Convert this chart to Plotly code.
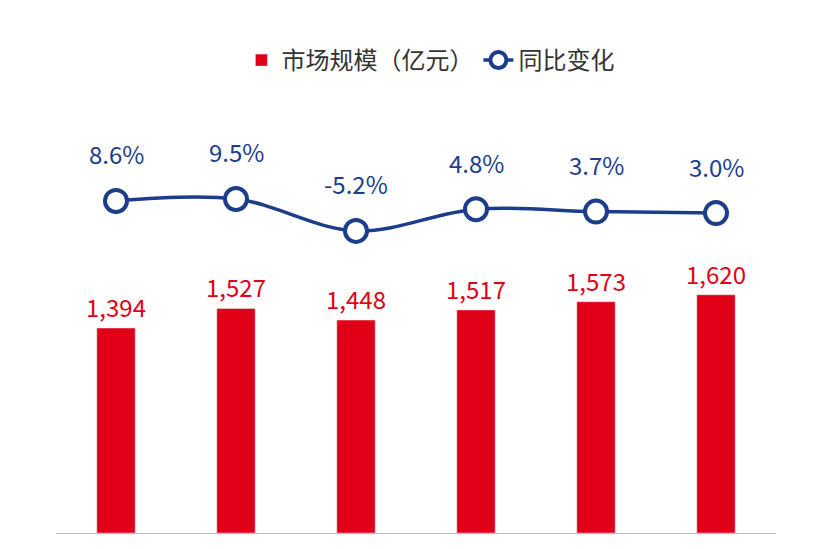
import plotly.graph_objects as go

categories = ["2019", "2020", "2021", "2022", "2023", "2024"]
market = [1394, 1527, 1448, 1517, 1573, 1620]
yoy = [8.6, 9.5, -5.2, 4.8, 3.7, 3.0]

red = "#E00017"
blue = "#1C3C8C"
idx = list(range(len(categories)))

fig = go.Figure()
fig.add_trace(go.Bar(
    x=idx, y=market, name="市场规模（亿元）", marker_color=red, width=0.32))
fig.add_trace(go.Scatter(
    x=idx, y=yoy, name="同比变化", yaxis="y2", mode="lines+markers",
    line=dict(color=blue, width=3.5, shape="spline"),
    marker=dict(size=22, color="white", line=dict(color=blue, width=4))))
for i, v in zip(idx, market):
    fig.add_annotation(x=i, y=v, text=f"{v:,}", showarrow=False, yanchor="bottom",
                       yshift=2, font=dict(color=red, size=24))
for i, v in zip(idx, yoy):
    fig.add_annotation(x=i, y=v, yref="y2", text=f"{v:.1f}%", showarrow=False,
                       yshift=47, font=dict(color=blue, size=24))

fig.update_layout(
    width=824, height=549, margin=dict(l=48, r=56, t=0, b=24),
    paper_bgcolor="white", plot_bgcolor="white",
    font=dict(family="Noto Sans CJK SC, Noto Sans", size=22),
    showlegend=True,
    legend=dict(orientation="h", x=0.52, xanchor="center", y=0.9, yanchor="middle",
                font=dict(size=24, color="#333")),
    xaxis=dict(range=[-0.5, 5.5], tickvals=idx, ticktext=categories, showticklabels=False,
               showline=True, linecolor="#BBBBBB", ticks="", showgrid=False, zeroline=False),
    yaxis=dict(range=[0, 3570], visible=False),
    yaxis2=dict(range=[-144.4, 97.5], overlaying="y", visible=False),
)
fig.write_html("out.html")
